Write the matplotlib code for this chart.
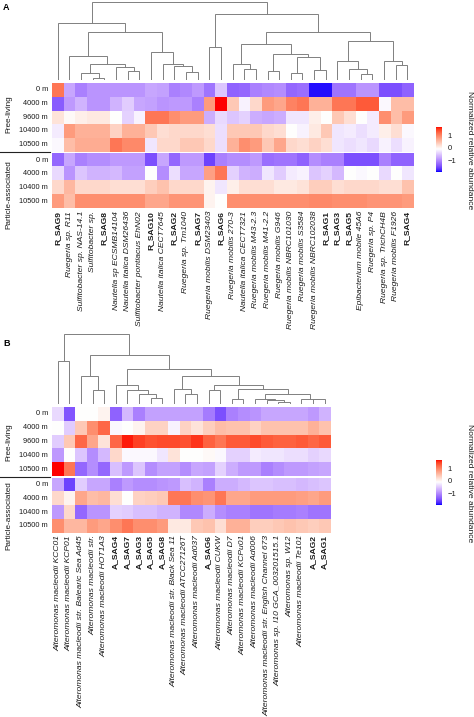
import numpy as np
import matplotlib
matplotlib.use('Agg')
import matplotlib.pyplot as plt
from matplotlib.colors import ListedColormap, TwoSlopeNorm
import matplotlib.transforms as mtrans

# ---------------- data ----------------
rows_fl = ["0 m", "4000 m", "9600 m", "10400 m", "10500 m"]
rows_pa = ["0 m", "4000 m", "10400 m", "10500 m"]

cols_a = ["R_SAG9", "Ruegeria sp. R11", "Sulfitobacter sp. NAS-14.1", "Sulfitobacter sp.",
          "R_SAG8", "Nautella sp ECSMB14104", "Nautella italica DSM26436",
          "Sulfitobacter pontiacus EhN02", "R_SAG10", "Nautella italica CECT7645", "R_SAG2",
          "Ruegeria sp. Tm1040", "R_SAG7", "Ruegeria mobilis DSM23403", "R_SAG6",
          "Ruegeria mobilis 270-3", "Nautella italica CECT7321", "Ruegeria mobilis M43-2.3",
          "Ruegeria mobilis M41-2.2", "Ruegeria mobilis G946", "Ruegeria mobilis NBRC101030",
          "Ruegeria mobilis S3584", "Ruegeria mobilis NBRC102038", "R_SAG1", "R_SAG3", "R_SAG5",
          "Epibacterium mobile 45A6", "Ruegeria sp. P4", "Ruegeria sp. TrichCH4B",
          "Ruegeria mobilis F1926", "R_SAG4"]

a_fl_0 = [1.2, -0.7, -1.0, -0.85, -0.85, -0.85, -0.85, -0.85, -0.7, -0.75, -1.0, -0.95, -0.8, -1.1, -0.45,
          -1.25, -1.2, -1.0, -0.95, -0.9, -1.2, -1.15, -1.8, -1.8, -1.1, -1.1, -0.85, -0.85, -1.4, -1.4, -1.25]
a_fl_4000 = [-1.3, -0.8, -0.6, -0.85, -0.85, -0.6, -0.4, -0.7, -0.75, -0.85, -0.8, -0.8, -1.0, 0.9, 1.75,
             0.5, -0.1, 0.35, 0.9, 0.8, 1.1, 1.2, 0.7, 0.7, 1.2, 1.2, 1.4, 1.4, -0.05, 0.6, 0.6]
a_fl_9600 = [0.25, 0.05, 0.15, 0.2, 0.2, 0.0, -0.35, -0.1, 1.2, 1.2, 1.0, 0.9, 0.9, -0.65, -0.3,
             -0.45, -0.35, -0.65, -0.7, -0.65, -0.2, -0.2, 0.15, 0.0, 0.5, 0.3, 0.0, -0.15, 1.0, 0.6, 0.9]
a_fl_10400 = [-0.15, 0.9, 0.7, 0.7, 0.7, 0.4, 0.7, 0.7, 0.5, 0.3, 0.35, 0.35, 0.35, 0.3, -0.25,
              0.5, 0.5, 0.5, 0.35, 0.3, 0.0, -0.1, 0.2, 0.5, -0.2, -0.15, -0.25, -0.15, 0.15, 0.3, -0.05]
a_fl_10500 = [-0.05, 0.6, 0.75, 0.75, 0.75, 1.2, 1.05, 1.05, -0.2, 0.35, 0.35, 0.5, 0.5, 0.35, -0.25,
              0.7, 1.0, 0.9, 0.5, 0.8, 0.35, 0.3, 0.4, 0.3, -0.2, -0.25, -0.2, -0.3, -0.1, -0.25, -0.1]
a_pa_0 = [-1.2, -0.7, -1.0, -0.9, -0.9, -0.8, -0.8, -0.8, -1.4, -0.7, -1.2, -0.8, -0.8, -1.5, -1.0,
          -0.9, -0.9, -0.8, -1.15, -1.1, -1.1, -1.25, -0.9, -1.0, -1.0, -1.4, -1.4, -1.4, -1.0, -1.25, -1.25]
a_pa_4000 = [-0.3, -0.85, -0.45, -0.6, -0.6, -0.55, -0.75, -0.75, 0.0, -0.9, -0.25, -0.7, -0.7, 0.85, 1.2,
             -0.35, -0.6, -0.65, -0.2, -0.4, -0.15, -0.1, -0.45, -0.35, -0.55, 0.0, -0.05, 0.0, -0.3, 0.0, -0.2]
a_pa_10400 = [0.35, 0.65, 0.35, 0.35, 0.35, 0.3, 0.3, 0.3, 0.45, 0.55, 0.35, 0.35, 0.35, 0.1, -0.2,
              0.15, 0.3, 0.3, 0.3, 0.2, 0.2, 0.25, 0.45, 0.45, 0.3, 0.35, 0.35, 0.35, 0.3, 0.3, 0.55]
a_pa_10500 = [0.9, 0.6, 1.0, 1.0, 1.0, 1.0, 1.0, 1.0, 0.8, 0.8, 0.95, 0.95, 0.95, 0.1, 0.0,
              1.0, 1.0, 1.0, 1.0, 1.0, 1.0, 1.0, 1.05, 1.05, 1.0, 1.0, 1.0, 0.95, 0.95, 0.95, 0.9]

cols_b = ["Alteromonas macleodii KCC01", "Alteromonas macleodii KCP01",
          "Alteromonas macleodii str. Balearic Sea Ad45", "Alteromonas macleodii str.",
          "Alteromonas macleodii HOT1A3", "A_SAG4", "A_SAG7", "A_SAG3", "A_SAG5", "A_SAG8",
          "Alteromonas macleodii str. Black Sea 11", "Alteromonas macleodii ATCC27126T",
          "Alteromonas macleodii Ad037", "A_SAG6", "Alteromonas macleodii CUKW",
          "Alteromonas macleodii D7", "Alteromonas macleodii KCPu01", "Alteromonas macleodii Ad006",
          "Alteromonas macleodii str. English Channel 673", "Alteromonas sp. I10 GCA_003201515.1",
          "Alteromonas sp. W12", "Alteromonas macleodii Te101", "A_SAG2", "A_SAG1"]

b_fl_0 = [-0.3, -1.35, 0.0, 0.0, 0.1, -1.25, -0.55, -1.0, -0.75, -0.75, -0.75, -0.75, -0.75, -1.05,
          -1.4, -1.0, -0.9, -0.85, -0.7, -0.7, -0.7, -0.7, -0.8, -0.6]
b_fl_4000 = [0.0, -0.4, 0.5, 1.0, 1.3, -0.05, 0.0, 0.1, 0.4, 0.4, -0.1, 0.4, 0.25, 0.45,
             0.6, 0.55, 0.55, 0.4, 0.55, 0.55, 0.55, 0.55, 0.7, 0.55]
b_fl_9600 = [-0.4, 0.5, 1.3, 0.8, 0.25, 1.3, 1.7, 1.55, 1.45, 1.5, 1.5, 1.45, 1.6, 1.35,
             1.2, 1.4, 1.4, 1.5, 1.4, 1.35, 1.35, 1.4, 1.3, 1.4]
b_fl_10400 = [-0.8, 0.0, -0.45, -0.9, -0.55, 0.35, -0.05, -0.05, -0.05, -0.2, 0.25, 0.0, 0.0, 0.05,
              -0.05, -0.35, -0.35, -0.15, -0.2, -0.2, -0.25, -0.25, -0.35, -0.3]
b_fl_10500 = [1.75, 1.2, -1.2, -0.9, -1.2, -0.5, -0.8, -0.45, -0.9, -0.75, -0.75, -0.9, -0.7, -0.75,
              -0.35, -0.65, -0.8, -0.8, -1.0, -0.9, -0.8, -0.8, -0.75, -0.7]
b_pa_0 = [-0.7, -1.5, -0.4, -0.7, -0.7, -1.0, -0.8, -0.9, -0.9, -0.85, -0.8, -0.5, -0.6, -1.0,
          -0.65, -0.65, -0.55, -0.45, -0.45, -0.5, -0.5, -0.55, -0.5, -0.45]
b_pa_4000 = [0.35, 0.1, 0.8, 0.6, 0.65, 0.3, 0.0, 0.4, 0.45, 0.5, 1.2, 1.2, 1.0, 0.95,
             1.2, 0.8, 0.8, 0.9, 0.9, 0.9, 0.9, 0.85, 0.8, 0.9]
b_pa_10400 = [-0.8, 0.35, -1.2, -0.85, -0.85, -0.35, -0.4, -0.5, -0.5, -0.6, -0.6, -0.95, -0.95, -0.65,
              -0.9, -1.0, -1.0, -1.1, -1.1, -1.05, -1.05, -1.0, -1.1, -1.1]
b_pa_10500 = [1.0, 0.65, 0.65, 0.9, 0.8, 1.0, 1.2, 1.0, 1.0, 0.9, 0.2, 0.2, 0.5, 0.55,
              0.3, 0.7, 0.7, 0.45, 0.45, 0.5, 0.55, 0.5, 0.45, 0.5]

# dendrograms: node -> (height, left, right); ints are leaf (column) indices
tree_a = {
    "root": (238, "L1", "R1"),
    "L1": (173, 0, "L2"), "L2": (146, "L3", "L9"), "L3": (73, 1, "L4"),
    "L4": (48, "L5", "L7"), "L5": (21, 2, "L6"), "L6": (6, 3, 4),
    "L7": (38, 5, "L8"), "L8": (25, 6, 7), "L9": (83, 8, "L10"),
    "L10": (48, 9, "L11"), "L11": (41, 10, "L12"), "L12": (23, 11, 12),
    "R1": (201, "R2", "R3"), "R2": (98, 13, 14), "R3": (145, "R4", "R12"),
    "R4": (108, "R5", "R7"), "R5": (46, 15, "R6"), "R6": (33, 16, 17),
    "R7": (78, "R8", "R9"), "R8": (26, 18, 19), "R9": (68, "R10", "R11"),
    "R10": (20, 20, 21), "R11": (30, 22, 23), "R12": (118, "R13", "R16"),
    "R13": (55, 24, "R14"), "R14": (31, 25, "R15"), "R15": (16, 26, 27),
    "R16": (56, 28, "R17"), "R17": (43, 29, 30),
}
tree_b = {
    "root": (210, "B1", "B2"),
    "B1": (127, 0, 1), "B2": (147, "B3", "B5"), "B3": (82, 2, "B4"), "B4": (40, 3, 4),
    "B5": (105, "B6", "B10"), "B6": (57, 5, "B7"), "B7": (40, 6, "B8"), "B8": (30, 7, "B9"),
    "B9": (17, 8, 9), "B10": (82, "B11", "B13"), "B11": (43, 10, "B12"), "B12": (30, 11, 12),
    "B13": (57, "B14", "B15"), "B14": (40, 13, 14), "B15": (45, "B16", "B17"),
    "B16": (15, 15, 16), "B17": (30, "B18", "B21"), "B18": (15, 17, "B19"),
    "B19": (10, 18, "B20"), "B20": (5, 19, 20), "B21": (15, 21, "B22"), "B22": (13, 22, 23),
}

legend_title = "Normalized relative abundance"
vmin, vmax = -1.85, 1.75

# ---------------- colour map (LAB interpolation blue-white-red) ----------------
def srgb_to_lab(c):
    c = np.asarray(c, float)
    lin = np.where(c <= 0.04045, c / 12.92, ((c + 0.055) / 1.055) ** 2.4)
    M = np.array([[0.4124, 0.3576, 0.1805], [0.2126, 0.7152, 0.0722], [0.0193, 0.1192, 0.9505]])
    xyz = M @ lin / np.array([0.95047, 1.0, 1.08883])
    d = 6 / 29
    f = np.where(xyz > d ** 3, np.cbrt(xyz), xyz / (3 * d * d) + 4 / 29)
    return np.array([116 * f[1] - 16, 500 * (f[0] - f[1]), 200 * (f[1] - f[2])])

def lab_to_srgb(lab):
    L, a, b = lab
    fy = (L + 16) / 116
    fx = fy + a / 500
    fz = fy - b / 200
    d = 6 / 29
    finv = lambda t: np.where(t > d, t ** 3, 3 * d * d * (t - 4 / 29))
    xyz = np.array([finv(fx), finv(fy), finv(fz)]) * np.array([0.95047, 1.0, 1.08883])
    Mi = np.array([[3.2406, -1.5372, -0.4986], [-0.9689, 1.8758, 0.0415], [0.0557, -0.2040, 1.0570]])
    lin = Mi @ xyz
    lin = np.clip(lin, 0, 1)
    c = np.where(lin <= 0.0031308, 12.92 * lin, 1.055 * lin ** (1 / 2.4) - 0.055)
    return np.clip(c, 0, 1)

lab_blue = srgb_to_lab([0, 0, 1])
lab_white = srgb_to_lab([1, 1, 1])
lab_red = srgb_to_lab([1, 0, 0])
colors = []
for t in np.linspace(0, 1, 256):
    if t <= 0.5:
        s = t / 0.5
        lab = lab_blue + (lab_white - lab_blue) * s
    else:
        s = (t - 0.5) / 0.5
        lab = lab_white + (lab_red - lab_white) * s
    colors.append(lab_to_srgb(lab))
cmap = ListedColormap(colors)
norm = TwoSlopeNorm(vmin=vmin, vcenter=0.0, vmax=vmax)

# ---------------- figure ----------------
W, H = 474, 717
plt.rcParams['font.family'] = ['Liberation Sans', 'DejaVu Sans']
fig = plt.figure(figsize=(W / 100, H / 100), dpi=100)
TXT = '#1a1a1a'

def add_ax(x0, y0, x1, y1):
    ax = fig.add_axes([x0 / W, 1 - y1 / H, (x1 - x0) / W, (y1 - y0) / H])
    ax.set_axis_off()
    return ax

def ftext(x, y, s, **kw):
    kw.setdefault('color', TXT)
    return fig.text(x / W, 1 - y / H, s, **kw)

def draw_tree(ax, tree, node):
    if isinstance(node, int):
        return node + 0.5, 0.0
    h, l, r = tree[node]
    xl, hl = draw_tree(ax, tree, l)
    xr, hr = draw_tree(ax, tree, r)
    ax.plot([xl, xl, xr, xr], [hl, h, h, hr], color='#808080', lw=0.7,
            solid_capstyle='butt', solid_joinstyle='miter')
    return (xl + xr) / 2, h

def panel(letter, letter_y, tree, cols, fl, pa, x0, ncell_w, dend_top, dend_bot, hm_top,
          row_h, gap, fl_lab_y, pa_lab_y, cb_top):
    ncol = len(cols)
    x1 = x0 + ncell_w * ncol
    ftext(3, letter_y, letter, fontsize=6.5, fontweight='bold', ha='left', va='center', color='black')
    # dendrogram
    dax = add_ax(x0, dend_top, x1, dend_bot)
    draw_tree(dax, tree, "root")
    dax.set_xlim(0, ncol)
    dax.set_ylim(0, tree["root"][0])
    # heatmaps
    fl_bot = hm_top + row_h * len(fl)
    pa_top = fl_bot + gap
    pa_bot = pa_top + row_h * len(pa)
    for arr, yt, yb, labels in [(fl, hm_top, fl_bot, rows_fl), (pa, pa_top, pa_bot, rows_pa)]:
        ax = add_ax(x0, yt, x1, yb)
        ax.imshow(np.array(arr), cmap=cmap, norm=norm, aspect='auto', interpolation='nearest',
                  extent=(0, ncol, len(arr), 0))
        for i, lab in enumerate(labels):
            ftext(x0 - 4, yt + row_h * (i + 0.5), lab, fontsize=5.3, ha='right', va='center')
    # separator line on the left
    ln = plt.Line2D([0, (x0 - 2) / W], [1 - (fl_bot + gap / 2) / H] * 2, transform=fig.transFigure,
                    color='#222222', lw=0.8)
    fig.add_artist(ln)
    ftext(9, fl_lab_y, "Free-living", fontsize=5.9, rotation=90, ha='center', va='center')
    ftext(9, pa_lab_y, "Particle-associated", fontsize=5.9, rotation=90, ha='center', va='center')
    # column labels
    for j, lab in enumerate(cols):
        xc = x0 + ncell_w * (j + 0.5)
        if "_SAG" in lab:
            ftext(xc, pa_bot + 2.5, lab, fontsize=6.1, rotation=90, ha='center', va='top',
                  fontweight='bold')
        else:
            ftext(xc, pa_bot + 2.5, lab, fontsize=6.1, rotation=90, ha='center', va='top',
                  fontstyle='italic')
    # colour bar
    cax = add_ax(436, cb_top, 442, cb_top + 45)
    grad = np.linspace(vmax, vmin, 256)[:, None]
    cax.imshow(grad, cmap=cmap, norm=norm, aspect='auto', extent=(0, 1, vmin, vmax))
    cax.set_xlim(0, 1)
    cax.set_ylim(vmin, vmax)
    tr = mtrans.blended_transform_factory(cax.transAxes, cax.transData)
    for v, s in [(1, "1"), (0, "0"), (-1, "\u22121")]:
        cax.text(1.9, v, s, transform=tr, fontsize=5.5, ha='left', va='center', color=TXT)
    ftext(469, cb_top + 23, legend_title, fontsize=6.1, rotation=-90, ha='center', va='center')

panel("A", 7, tree_a, cols_a,
      [a_fl_0, a_fl_4000, a_fl_9600, a_fl_10400, a_fl_10500],
      [a_pa_0, a_pa_4000, a_pa_10400, a_pa_10500],
      x0=52, ncell_w=11.65, dend_top=1.5, dend_bot=79.5, hm_top=82.7, row_h=13.8, gap=1.5,
      fl_lab_y=114, pa_lab_y=195, cb_top=127)

panel("B", 343, tree_b, cols_b,
      [b_fl_0, b_fl_4000, b_fl_9600, b_fl_10400, b_fl_10500],
      [b_pa_0, b_pa_4000, b_pa_10400, b_pa_10500],
      x0=52, ncell_w=11.6, dend_top=333.7, dend_bot=403.7, hm_top=407, row_h=13.8, gap=1.5,
      fl_lab_y=442, pa_lab_y=516, cb_top=460)

fig.savefig("out.png", dpi=100)
